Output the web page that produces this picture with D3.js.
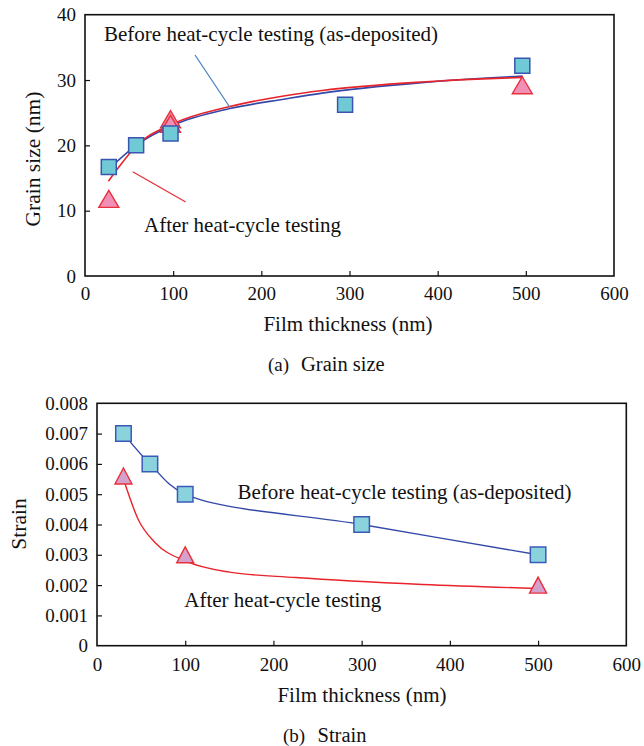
<!DOCTYPE html>
<html>
<head>
<meta charset="utf-8">
<script src="https://cdn.jsdelivr.net/npm/d3@7"></script>
<style>
  html, body { margin: 0; padding: 0; background: #fff; }
  svg { display: block; }
  text { font-family: "Liberation Serif", "Times New Roman", serif; fill: #111; }
</style>
</head>
<body>
<svg id="chart" width="644" height="746"></svg>
<script>
// ---------------- DATA ----------------
// (a) Grain size
const thicknessBeforeA = [27, 58, 97, 295, 496];
const grainBefore      = [16.7, 20.0, 21.8, 26.2, 32.2];
const thicknessAfterA  = [27, 97, 97, 496];
const grainAfter       = [11.8, 24.0, 23.3, 29.2];
// trend curves
const trendXBeforeA = [28, 58, 100, 163, 227, 269, 382, 496];
const trendYBeforeA = [16.5, 20.0, 23.1, 25.6, 27.1, 28.0, 29.6, 30.6];
const trendXAfterA  = [26.5, 38, 58, 100, 163, 227, 269, 382, 496];
const trendYAfterA  = [14.5, 16.6, 19.9, 23.3, 25.9, 27.6, 28.4, 29.7, 30.4];
const xTicksA = [0, 100, 200, 300, 400, 500, 600];
const yTicksA = [0, 10, 20, 30, 40];

// (b) Strain
const thicknessBeforeB = [30, 60, 100, 300, 500];
const strainBefore     = [0.007, 0.006, 0.005, 0.004, 0.003];
const thicknessAfterB  = [30, 100, 500];
const strainAfter      = [0.0056, 0.003, 0.002];
const trendXAfterB = [30, 47, 66, 100, 150, 225, 369, 500];
const trendYAfterB = [0.0055, 0.00415, 0.0034, 0.0028, 0.00243, 0.00225, 0.00202, 0.00189];
const xTicksB = [0, 100, 200, 300, 400, 500, 600];
const yTicksB = [0, 0.001, 0.002, 0.003, 0.004, 0.005, 0.006, 0.007, 0.008];
const yTickLabelsB = ["0", "0.001", "0.002", "0.003", "0.004", "0.005", "0.006", "0.007", "0.008"];

const labelBefore = "Before heat-cycle testing (as-deposited)";
const labelAfter  = "After heat-cycle testing";
const xTitle = "Film thickness (nm)";

// ---------------- DRAW ----------------
const svg = d3.select("#chart");
const FONT = '"Liberation Serif", "Times New Roman", serif';

function squarePath(cx, cy, s) {
  const h = s / 2;
  return `M${cx - h},${cy - h}h${s}v${s}h${-s}Z`;
}
function trianglePath(cx, cy, w, h) {
  return `M${cx},${cy - h / 2}L${cx + w / 2},${cy + h / 2}L${cx - w / 2},${cy + h / 2}Z`;
}
function zip(xs, ys) { return xs.map((x, i) => [x, ys[i]]); }

function panel(cfg) {
  const g = svg.append("g");
  const x = d3.scaleLinear().domain([0, 600]).range([cfg.left, cfg.right]);
  const y = d3.scaleLinear().domain(cfg.yDomain).range([cfg.bottom, cfg.top]);

  const xa = d3.axisBottom(x).tickValues(cfg.xTicks).tickFormat(d3.format("d"))
    .tickSizeInner(-5).tickSizeOuter(0).tickPadding(cfg.xPad);
  const ya = d3.axisLeft(y).tickValues(cfg.yTicks).tickFormat((d, i) => cfg.yLabels[i])
    .tickSizeInner(-5).tickSizeOuter(0).tickPadding(9);
  const gx = g.append("g").attr("transform", `translate(0,${cfg.bottom})`).call(xa);
  const gy = g.append("g").attr("transform", `translate(${cfg.left},0)`).call(ya);
  [gx, gy].forEach(a => {
    a.attr("font-family", FONT);
    a.select(".domain").remove();
    a.selectAll(".tick line").attr("stroke", "#111").attr("stroke-width", 1.2);
    a.selectAll(".tick text").attr("font-family", FONT).attr("font-size", cfg.tickFont).attr("fill", "#111");
  });
  gx.selectAll(".tick line").filter(d => d === 0 || d === 600).remove();
  gy.selectAll(".tick line").filter((d, i) => i === 0 || i === cfg.yTicks.length - 1).remove();

  g.append("rect").attr("x", cfg.left).attr("y", cfg.top)
    .attr("width", cfg.right - cfg.left).attr("height", cfg.bottom - cfg.top)
    .attr("fill", "none").attr("stroke", "#111").attr("stroke-width", 1.6);

  const line = d3.line().x(d => x(d[0])).y(d => y(d[1]));

  cfg.curves.forEach(c => {
    g.append("path").datum(c.data)
      .attr("d", line.curve(c.curve)(c.data))
      .attr("fill", "none").attr("stroke", c.color).attr("stroke-width", c.width);
  });

  (cfg.leaders || []).forEach(l => {
    g.append("line").attr("x1", l[0]).attr("y1", l[1]).attr("x2", l[2]).attr("y2", l[3])
      .attr("stroke", l[4]).attr("stroke-width", 1.3);
  });

  g.selectAll("path.tri").data(cfg.tri.data).join("path").attr("class", "tri")
    .attr("d", d => trianglePath(x(d[0]), y(d[1]), cfg.tri.w, cfg.tri.h))
    .attr("fill", cfg.tri.fill).attr("stroke", cfg.tri.stroke).attr("stroke-width", 1.4);
  g.selectAll("path.sq").data(cfg.sq.data).join("path").attr("class", "sq")
    .attr("d", d => squarePath(x(d[0]), y(d[1]), cfg.sq.s))
    .attr("fill", cfg.sq.fill).attr("stroke", cfg.sq.stroke).attr("stroke-width", 1.5);

  cfg.texts.forEach(t => {
    const el = g.append("text").attr("x", t.x).attr("y", t.y).attr("font-size", t.size)
      .attr("font-family", FONT).attr("text-anchor", t.anchor || "start").text(t.text);
    if (t.rotate) el.attr("transform", `rotate(-90,${t.x},${t.y})`);
  });
}

// (a) Grain size
panel({
  left: 85, right: 614, top: 14.7, bottom: 276,
  yDomain: [0, 40], xTicks: xTicksA, yTicks: yTicksA, yLabels: yTicksA.map(String),
  xPad: 11, tickFont: 19,
  curves: [
    { data: zip(trendXBeforeA, trendYBeforeA), color: "#3349a8", width: 1.6, curve: d3.curveMonotoneX },
    { data: zip(trendXAfterA, trendYAfterA), color: "#e8232b", width: 1.6, curve: d3.curveMonotoneX }
  ],
  leaders: [[195, 55, 230, 107.5, "#4f82c2"], [132.7, 171.7, 185.7, 202, "#e8303a"]],
  tri: { data: zip(thicknessAfterA, grainAfter), w: 20, h: 17, fill: "#f190b6", stroke: "#e8303a" },
  sq: { data: zip(thicknessBeforeA, grainBefore), s: 15, fill: "#6fcad6", stroke: "#3a55b0" },
  texts: [
    { text: labelBefore, x: 104, y: 41, size: 21 },
    { text: labelAfter, x: 144, y: 232, size: 21 },
    { text: xTitle, x: 348, y: 331, size: 21 , anchor: "middle" },
    { text: "Grain size (nm)", x: 40, y: 159, size: 21.5, anchor: "middle", rotate: true },
    { text: "(a)", x: 268, y: 371, size: 19 },
    { text: "Grain size", x: 301, y: 371, size: 20.5 }
  ]
});

// (b) Strain
panel({
  left: 97, right: 626.3, top: 403.3, bottom: 645.7,
  yDomain: [0, 0.008], xTicks: xTicksB, yTicks: yTicksB, yLabels: yTickLabelsB,
  xPad: 12, tickFont: 19,
  curves: [
    { data: zip(thicknessBeforeB, strainBefore), color: "#3349a8", width: 1.4, curve: d3.curveCatmullRom.alpha(0.5) },
    { data: zip(trendXAfterB, trendYAfterB), color: "#e8232b", width: 1.4, curve: d3.curveMonotoneX }
  ],
  tri: { data: zip(thicknessAfterB, strainAfter), w: 17, h: 16, fill: "#d4a0cc", stroke: "#e8303a" },
  sq: { data: zip(thicknessBeforeB, strainBefore), s: 15.5, fill: "#8ad3dd", stroke: "#3a5ab8" },
  texts: [
    { text: labelBefore, x: 237.5, y: 498.5, size: 21 },
    { text: labelAfter, x: 184.3, y: 606.7, size: 21 },
    { text: xTitle, x: 362, y: 701.5, size: 21, anchor: "middle" },
    { text: "Strain", x: 26, y: 524, size: 21.5, anchor: "middle", rotate: true },
    { text: "(b)", x: 283, y: 741.5, size: 19 },
    { text: "Strain", x: 317.5, y: 741.5, size: 20.5 }
  ]
});
</script>
</body>
</html>
